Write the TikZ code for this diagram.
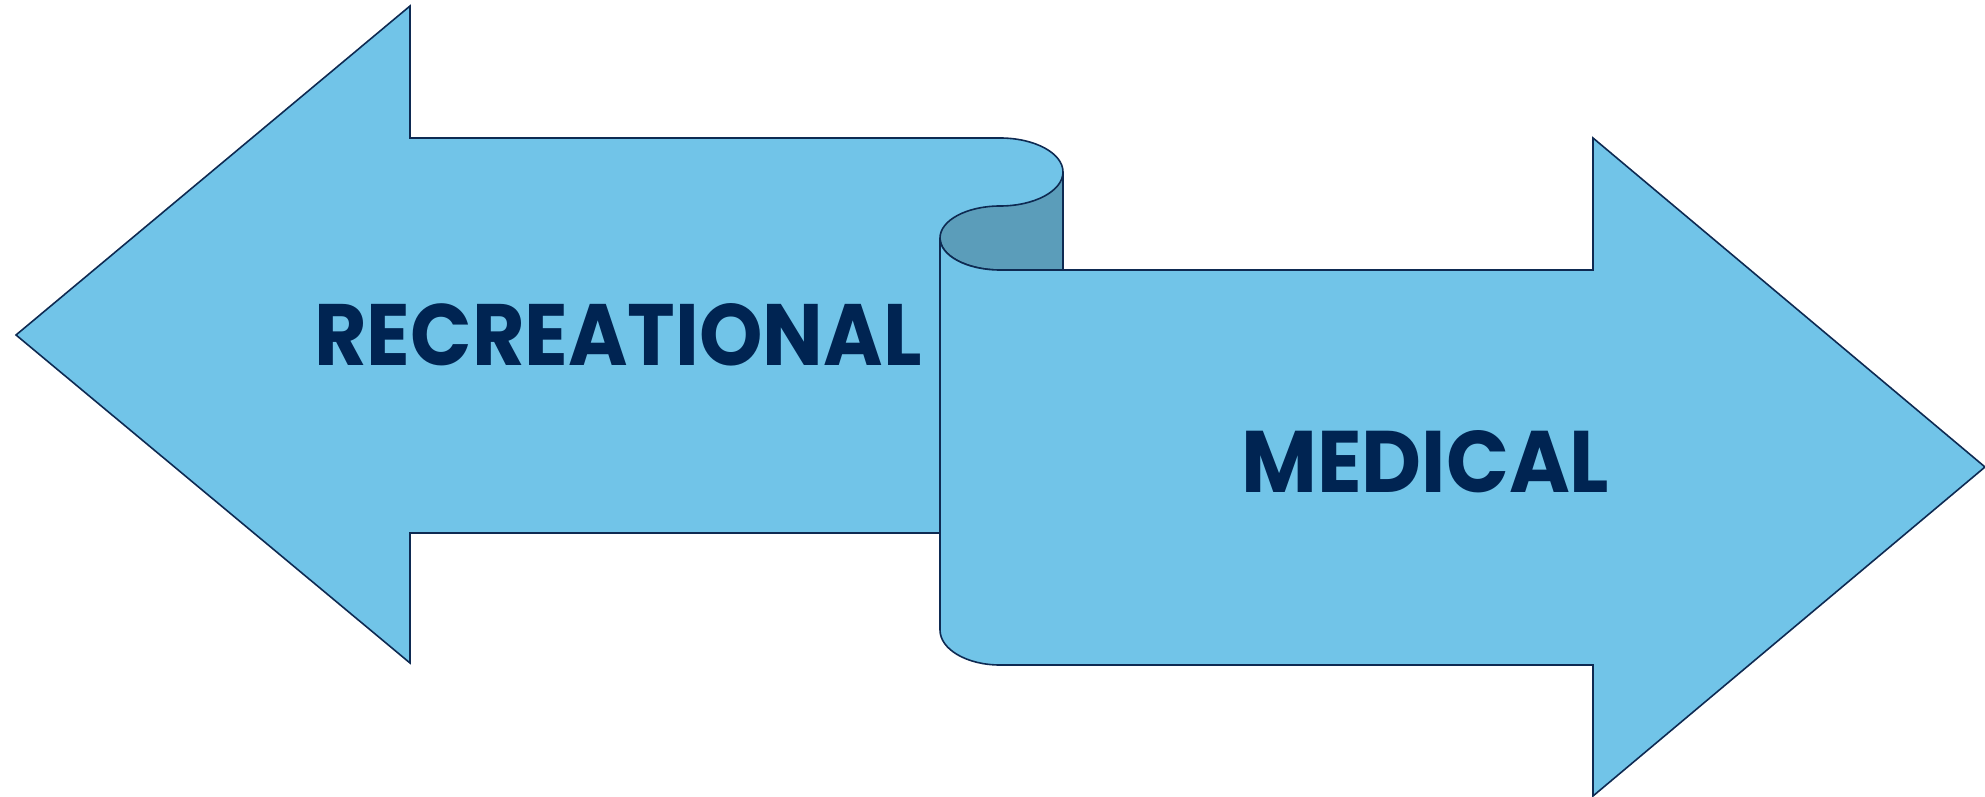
\documentclass[tikz,border=0pt]{standalone}
\usepackage{fontspec}
\usepackage{graphicx}
\setmainfont{Poppins}
\definecolor{ribbon}{HTML}{71C4E8}
\definecolor{ribbonshade}{HTML}{5B9DBA}
\definecolor{edge}{HTML}{0E2A52}
\definecolor{labeltext}{HTML}{002452}
\tikzset{
  ribbonpart/.style={fill=ribbon, draw=edge, line width=1.6pt, line join=miter},
  foldpart/.style={fill=ribbonshade, draw=edge, line width=1.6pt},
  arrowlabel/.style={text=labeltext, inner sep=0pt, font=\bfseries}
}
\begin{document}
\begin{tikzpicture}[x=1pt, y=1pt]
  \useasboundingbox (0,0) rectangle (1985,796);

  % left-pointing arrow, whose tail rolls over at the top right
  \path[ribbonpart] (16,461) -- (410,790) -- (410,658) -- (1000,658)
    arc[start angle=90, end angle=0, x radius=63pt, y radius=34pt]
    -- (1063,263) -- (410,263) -- (410,133) -- cycle;

  % shaded underside of the fold
  \path[foldpart] (1063,624)
    arc[start angle=0, end angle=-90, x radius=63pt, y radius=34pt]
    arc[start angle=90, end angle=270, x radius=60pt, y radius=32pt]
    -- (1063,526) -- cycle;

  % right-pointing arrow, continuing the ribbon
  \path[ribbonpart] (940,558)
    arc[start angle=180, end angle=270, x radius=60pt, y radius=32pt]
    -- (1593,526) -- (1593,658) -- (1985,329) -- (1593,0) -- (1593,131)
    -- (1000,131)
    arc[start angle=270, end angle=180, x radius=60pt, y radius=35pt]
    -- cycle;

  % labels
  \node[arrowlabel, anchor=base west] (rec) at (314,430)
    {\resizebox{607pt}{62pt}{RECREATIONAL}};
  \node[arrowlabel, anchor=base west] (med) at (1241,303)
    {\resizebox{368pt}{62pt}{MEDICAL}};
\end{tikzpicture}
\end{document}
